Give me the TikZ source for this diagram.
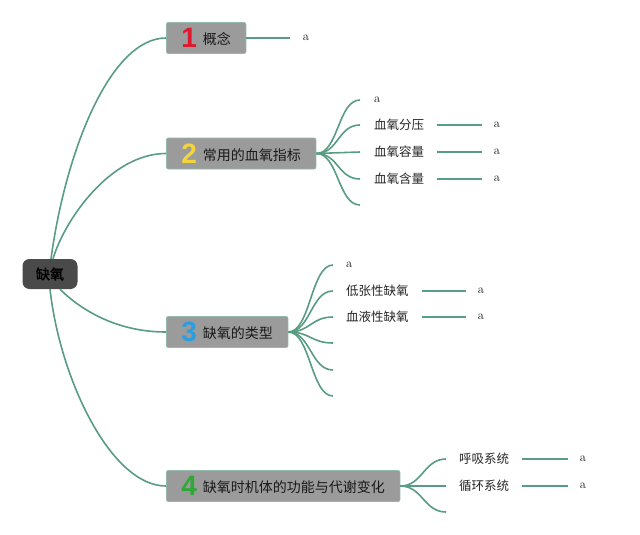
\documentclass[tikz,border=0pt]{standalone}
\usepackage{fontspec}
\newfontfamily\cjk{Noto Sans CJK SC}
\newfontfamily\cjkbold[FakeBold=2]{Noto Sans CJK SC}
\newfontfamily\numfont{Liberation Sans}
\definecolor{linkgreen}{HTML}{589C84}
\definecolor{boxgray}{HTML}{9B9B9B}
\definecolor{boxedge}{HTML}{93B9A8}
\definecolor{rootgray}{HTML}{4A4A4A}
\definecolor{numred}{HTML}{E0182D}
\definecolor{numyellow}{HTML}{F2D43C}
\definecolor{numblue}{HTML}{2A9FE0}
\definecolor{numgreen}{HTML}{2EA836}
\tikzstyle{link}=[draw=linkgreen, line width=1.6pt]
\tikzstyle{stem}=[link, shorten <=13pt, shorten >=12pt]
\tikzstyle{root}=[fill=rootgray, rounded corners=7pt, minimum width=55pt, minimum height=30pt, font=\cjkbold\fontsize{14}{14}\selectfont]
\tikzstyle{topic}=[fill=boxgray, draw=boxedge, line width=0.8pt, rounded corners=2pt, anchor=west, minimum height=31pt, inner xsep=15pt, inner ysep=0pt, text=black!90, font=\cjk\fontsize{14}{14}\selectfont]
\tikzstyle{leaf}=[anchor=west, inner sep=0pt, text=black!85, font=\cjk\fontsize{12.5}{12.5}\selectfont]
\tikzstyle{tip}=[inner sep=0pt, text=black!90, font=\fontsize{12.5}{12.5}\selectfont]
\newcommand\topicnum[2]{{\numfont\bfseries\fontsize{28}{28}\selectfont\color{#1}\raisebox{-3pt}{#2}}\hspace{6pt}}

\begin{document}
\begin{tikzpicture}[x=1pt, y=-1pt]
\useasboundingbox (0,0) rectangle (640,535);
% Root and topics
    \node[root] (root) at (50,274) {缺氧};
    \node[topic] (b1) at (166,38) {\topicnum{numred}{1}概念};
    \node[topic] (b2) at (166,153.5) {\topicnum{numyellow}{2}常用的血氧指标};
    \node[topic] (b3) at (166,332) {\topicnum{numblue}{3}缺氧的类型};
    \node[topic] (b4) at (166,486) {\topicnum{numgreen}{4}缺氧时机体的功能与代谢变化};
% Root links
    \draw[link] ([xshift=1pt]root.north) .. controls +(15,-110) and +(-55,0) .. (b1.west);
    \draw[link] ([xshift=3pt]root.north) .. controls +(12,-40) and +(-55,0) .. (b2.west);
    \draw[link] ([xshift=10pt]root.south) .. controls +(20,20) and +(-50,0) .. (b3.west);
    \draw[link] (root.south) .. controls +(10,90) and +(-55,0) .. (b4.west);
% Topic 1
    \node[tip] (t1) at (306,38) {a};
    \draw[link, shorten >=13pt] (b1) -- (t1);
% Topic 2
    \coordinate (e21) at (360,100);
    \coordinate (e22) at (360,125);
    \coordinate (e23) at (360,152);
    \coordinate (e24) at (360,179);
    \coordinate (e25) at (360,205);
    \draw[link] (b2.east) .. controls +(22,0) and +(-22,0) .. (e21);
    \draw[link] (b2.east) .. controls +(22,0) and +(-22,0) .. (e22);
    \draw[link] (b2.east) .. controls +(22,0) and +(-22,0) .. (e23);
    \draw[link] (b2.east) .. controls +(22,0) and +(-22,0) .. (e24);
    \draw[link] (b2.east) .. controls +(22,0) and +(-22,0) .. (e25);
    \node[tip, anchor=west] (t21) at (374,100) {a};
    \node[leaf] (l22) at (374,125) {血氧分压};
    \node[leaf] (l23) at (374,152) {血氧容量};
    \node[leaf] (l24) at (374,179) {血氧含量};
    \node[tip] (t22) at (497,125) {a};
    \node[tip] (t23) at (497,152) {a};
    \node[tip] (t24) at (497,179) {a};
    \draw[stem] (l22) -- (t22);
    \draw[stem] (l23) -- (t23);
    \draw[stem] (l24) -- (t24);
% Topic 3
    \coordinate (e31) at (333,265);
    \coordinate (e32) at (333,291);
    \coordinate (e33) at (333,317);
    \coordinate (e34) at (333,343);
    \coordinate (e35) at (333,370);
    \coordinate (e36) at (333,396);
    \draw[link] (b3.east) .. controls +(22,0) and +(-22,0) .. (e31);
    \draw[link] (b3.east) .. controls +(22,0) and +(-22,0) .. (e32);
    \draw[link] (b3.east) .. controls +(22,0) and +(-22,0) .. (e33);
    \draw[link] (b3.east) .. controls +(22,0) and +(-22,0) .. (e34);
    \draw[link] (b3.east) .. controls +(22,0) and +(-22,0) .. (e35);
    \draw[link] (b3.east) .. controls +(22,0) and +(-22,0) .. (e36);
    \node[tip, anchor=west] (t31) at (346,265) {a};
    \node[leaf] (l32) at (346,291) {低张性缺氧};
    \node[leaf] (l33) at (346,317) {血液性缺氧};
    \node[tip] (t32) at (481,291) {a};
    \node[tip] (t33) at (481,317) {a};
    \draw[stem] (l32) -- (t32);
    \draw[stem] (l33) -- (t33);
% Topic 4
    \coordinate (e41) at (446,459);
    \coordinate (e42) at (446,486);
    \coordinate (e43) at (446,512);
    \draw[link] (b4.east) .. controls +(22,0) and +(-22,0) .. (e41);
    \draw[link] (b4.east) .. controls +(22,0) and +(-22,0) .. (e42);
    \draw[link] (b4.east) .. controls +(22,0) and +(-22,0) .. (e43);
    \node[leaf] (l41) at (459,459) {呼吸系统};
    \node[leaf] (l42) at (459,486) {循环系统};
    \node[tip] (t41) at (583,459) {a};
    \node[tip] (t42) at (583,486) {a};
    \draw[stem] (l41) -- (t41);
    \draw[stem] (l42) -- (t42);
\end{tikzpicture}
\end{document}
